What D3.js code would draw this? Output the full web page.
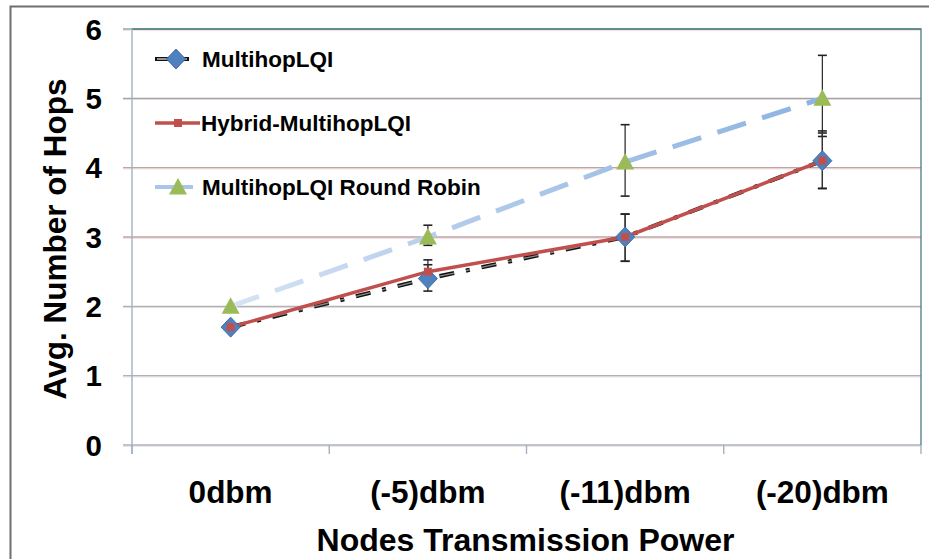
<!DOCTYPE html>
<html><head><meta charset="utf-8">
<script src="https://cdn.jsdelivr.net/npm/d3@7"></script>
<style>
html,body{margin:0;padding:0;background:#fff;}
svg text{font-family:"Liberation Sans",Arial,sans-serif;font-weight:bold;fill:#000;}
</style></head>
<body><svg id="c" width="929" height="559"></svg>
<script>
const categories = ["0dbm","(-5)dbm","(-11)dbm","(-20)dbm"];
const seriesNames = ["MultihopLQI","Hybrid-MultihopLQI","MultihopLQI Round Robin"];
const multihop = [1.7, 2.4, 3.0, 4.1];
const multihopLow = [1.7, 2.22, 2.65, 3.7];
const multihopHigh = [1.7, 2.6, 3.33, 4.5];
const hybrid = [1.7, 2.5, 3.0, 4.1];
const hybridLow = [1.7, 2.35, 2.65, 3.7];
const hybridHigh = [1.7, 2.67, 3.33, 4.53];
const roundRobin = [2.0, 3.0, 4.08, 5.0];
const roundRobinLow = [2.0, 2.88, 3.59, 4.45];
const roundRobinHigh = [2.0, 3.17, 4.62, 5.62];
const yTicks = [0,1,2,3,4,5,6];

const svg = d3.select("#c");
const L = 132, R = 921, T = 29, B = 445;
const x = d3.scaleBand().domain(categories).range([L, R]);
const y = d3.scaleLinear().domain([0, 6]).range([B, T]);
const cx = c => x(c) + x.bandwidth() / 2;

// outer frame
svg.append("path").attr("d", "M10.5,559 V6.5 H929").attr("fill", "none")
  .attr("stroke", "#6e6e6e").attr("stroke-width", 2);

// gridlines
const grid = svg.append("g");
yTicks.forEach(t => {
  grid.append("line").attr("x1", L - 9).attr("x2", R).attr("y1", y(t) + 1.2).attr("y2", y(t) + 1.2)
    .attr("stroke", "#f3d4cc").attr("stroke-width", 1);
  grid.append("line").attr("x1", L - 9).attr("x2", R).attr("y1", y(t)).attr("y2", y(t))
    .attr("stroke", t >= 5 ? "#9aa6b0" : (t >= 3 ? "#b8a6a8" : "#a3b6c6")).attr("stroke-width", 1.4);
});
// plot area top/right border
svg.append("path").attr("d", `M${L},${T} H${R} V${B}`).attr("fill", "none")
  .attr("stroke", "#4d7a88").attr("stroke-width", 1.3);
// y axis line
svg.append("line").attr("x1", L).attr("x2", L).attr("y1", T).attr("y2", B + 9)
  .attr("stroke", "#9fb3c3").attr("stroke-width", 1.4);
// x ticks
const xEdges = categories.map(c => x(c)).concat([R]);
xEdges.forEach(e => svg.append("line").attr("x1", e).attr("x2", e).attr("y1", B).attr("y2", B + 9)
  .attr("stroke", "#9fb3c3").attr("stroke-width", 1.4));

// y tick labels
svg.append("g").selectAll("text").data(yTicks).join("text")
  .attr("x", 102).attr("y", d => y(d) + 10.5).attr("text-anchor", "end")
  .attr("font-size", 29.5).text(d => d);
// x tick labels
svg.append("g").selectAll("text").data(categories).join("text")
  .attr("x", d => cx(d)).attr("y", 503).attr("text-anchor", "middle")
  .attr("font-size", 31.5).text(d => d);
// axis titles
svg.append("text").attr("x", (L + R) / 2 - 1).attr("y", 551).attr("text-anchor", "middle")
  .attr("font-size", 32).text("Nodes Transmission Power");
svg.append("text").attr("transform", `translate(66,${(T + B) / 2 + 2}) rotate(-90)`)
  .attr("text-anchor", "middle").attr("font-size", 31.5).text("Avg. Number of Hops");

// gradient for round robin line
const defs = svg.append("defs");
const gr = defs.append("linearGradient").attr("id", "rrg").attr("gradientUnits", "userSpaceOnUse")
  .attr("x1", cx(categories[0])).attr("x2", cx(categories[3])).attr("y1", 0).attr("y2", 0);
gr.append("stop").attr("offset", "0%").attr("stop-color", "#d6e4f4");
gr.append("stop").attr("offset", "40%").attr("stop-color", "#b2cbea");
gr.append("stop").attr("offset", "100%").attr("stop-color", "#8db3e2");

// error bars
function errBars(low, high) {
  const g = svg.append("g");
  categories.forEach((c, i) => {
    if (high[i] - low[i] < 0.01) return;
    const X = cx(c);
    g.append("line").attr("x1", X).attr("x2", X).attr("y1", y(low[i])).attr("y2", y(high[i]))
      .attr("stroke", "#333").attr("stroke-width", 1.3);
    [low[i], high[i]].forEach(v => g.append("line").attr("x1", X - 4.5).attr("x2", X + 4.5)
      .attr("y1", y(v)).attr("y2", y(v)).attr("stroke", "#222").attr("stroke-width", 1.6));
  });
}
errBars(roundRobinLow, roundRobinHigh);
errBars(multihopLow, multihopHigh);
errBars(hybridLow, hybridHigh);

const line = d3.line().x((d, i) => cx(categories[i])).y(d => y(d));

// Round robin line
svg.append("path").datum(roundRobin).attr("d", line).attr("fill", "none")
  .attr("stroke", "url(#rrg)").attr("stroke-width", 5).attr("stroke-dasharray", "30,17");
// Multihop dash-dot
svg.append("path").datum(multihop).attr("d", line).attr("fill", "none")
  .attr("stroke", "#111").attr("stroke-width", 4.2).attr("stroke-dasharray", "15,12,4,12");
svg.append("path").datum(multihop).attr("d", line).attr("fill", "none")
  .attr("stroke", "#8a8a8a").attr("stroke-width", 1.3).attr("stroke-dasharray", "15,12,4,12");
// Hybrid line
svg.append("path").datum(hybrid).attr("d", line).attr("fill", "none")
  .attr("stroke", "#c0504d").attr("stroke-width", 3.5);

// markers
function drawDiamond(X, Y) {
  svg.append("path").attr("d", `M${X},${Y - 10} L${X + 9.5},${Y} L${X},${Y + 10} L${X - 9.5},${Y} Z`)
    .attr("fill", "#4f81bd").attr("stroke", "#3f6fb0").attr("stroke-width", 1);
}
function drawSquare(X, Y) {
  svg.append("rect").attr("x", X - 4).attr("y", Y - 4).attr("width", 8).attr("height", 8)
    .attr("fill", "#c0504d");
}
function drawTri(X, Y) {
  svg.append("path").attr("d", `M${X},${Y - 10} L${X + 9},${Y + 6.5} L${X - 9},${Y + 6.5} Z`)
    .attr("fill", "#9bbb59");
}
multihop.forEach((v, i) => drawDiamond(cx(categories[i]), y(v)));
hybrid.forEach((v, i) => drawSquare(cx(categories[i]), y(v)));
roundRobin.forEach((v, i) => drawTri(cx(categories[i]), y(v) + 1));

// legend
const legY = [59, 123, 187];
svg.append("line").attr("x1", 155).attr("x2", 189).attr("y1", legY[0]).attr("y2", legY[0])
  .attr("stroke", "#111").attr("stroke-width", 4.2);
svg.append("line").attr("x1", 157).attr("x2", 187).attr("y1", legY[0]).attr("y2", legY[0])
  .attr("stroke", "#ddd").attr("stroke-width", 1.3);
drawDiamond(176, legY[0]);
svg.append("line").attr("x1", 155).attr("x2", 200).attr("y1", legY[1]).attr("y2", legY[1])
  .attr("stroke", "#c0504d").attr("stroke-width", 3.5);
drawSquare(178, legY[1]);
svg.append("line").attr("x1", 155).attr("x2", 193).attr("y1", legY[2]).attr("y2", legY[2])
  .attr("stroke", "#a9c6ea").attr("stroke-width", 4);
drawTri(178, legY[2] + 1);
svg.append("g").selectAll("text").data(seriesNames).join("text")
  .attr("x", (d, i) => i === 1 ? 201 : 202).attr("y", (d, i) => legY[i] + 8)
  .attr("font-size", 22.5).text(d => d);
</script></body></html>
